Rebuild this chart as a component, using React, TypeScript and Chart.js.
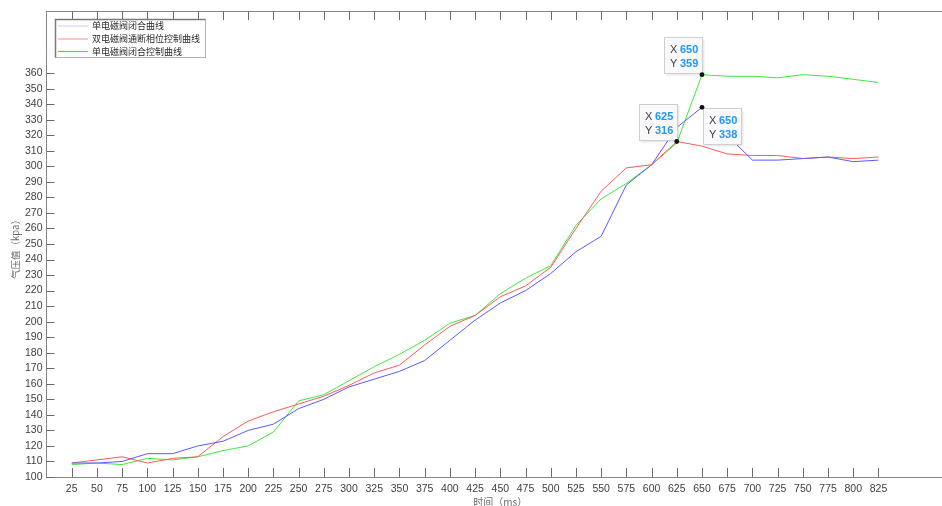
import React, { useEffect, useRef } from "react";
import { Chart, registerables } from "chart.js";

Chart.register(...registerables);

const times = [25, 50, 75, 100, 125, 150, 175, 200, 225, 250, 275, 300, 325, 350, 375, 400, 425, 450, 475, 500, 525, 550, 575, 600, 625, 650, 675, 700, 725, 750, 775, 800, 825];

const singleClose = [109, 109, 110, 115, 115, 120, 123, 130, 134, 144, 150, 158, 163, 168, 175, 188, 201, 212, 220, 231, 245, 255, 288, 301, 325, 338, 320, 304, 304, 305, 306, 303, 304];
const dualPhase = [109, 111, 113, 109, 112, 113, 126, 136, 142, 147, 152, 159, 167, 172, 185, 197, 204, 216, 223, 235, 260, 284, 299, 301, 316, 313, 308, 307, 307, 305, 306, 305, 306];
const singleCtrl = [108, 109, 108, 112, 111, 113, 117, 120, 129, 149, 153, 162, 171, 179, 188, 199, 204, 218, 228, 236, 262, 279, 289, 301, 315, 359, 358, 358, 357, 359, 358, 356, 354];

const seriesLabels = ["单电磁阀闭合曲线", "双电磁阀通断相位控制曲线", "单电磁阀闭合控制曲线"];
const xTickLabels = times;
const yTickLabels = [100, 110, 120, 130, 140, 150, 160, 170, 180, 190, 200, 210, 220, 230, 240, 250, 260, 270, 280, 290, 300, 310, 320, 330, 340, 350, 360];
const xTitle = "时间（ms）";
const yTitle = "气压值（kpa）";

// datatips: [dataset index, time value]
const tipSeries = [2, 1, 0];
const tipTimes = [650, 625, 650];

const lineColors = ["#5a5aff", "#ff5a5a", "#3fe83f"];
const legendColors = ["#d2d2ff", "#ff9c9c", "#45dd45"];
const tipCorners = ["br", "br", "tl"];

const decorPlugin = {
  id: "decor",
  beforeDatasetsDraw(chart: any) {
    const ctx = chart.ctx;
    const { left, right, top, bottom } = chart.chartArea;
    const xs = chart.scales.x;
    const ys = chart.scales.y;
    ctx.save();
    ctx.strokeStyle = "#858585";
    ctx.lineWidth = 1;
    // top border
    ctx.beginPath();
    ctx.moveTo(left, Math.round(top) + 0.5);
    ctx.lineTo(right, Math.round(top) + 0.5);
    ctx.stroke();
    ctx.strokeStyle = "#6a6a6a";
    ctx.beginPath();
    for (const v of xTickLabels) {
      const px = Math.round(xs.getPixelForValue(v)) + 0.5;
      ctx.moveTo(px, bottom);
      ctx.lineTo(px, bottom - 9);
      ctx.moveTo(px, top);
      ctx.lineTo(px, top + 9);
    }
    for (const v of yTickLabels) {
      const py = Math.round(ys.getPixelForValue(v)) + 0.5;
      ctx.moveTo(left, py);
      ctx.lineTo(left + 8, py);
    }
    ctx.stroke();
    ctx.restore();
  },
  afterDatasetsDraw(chart: any) {
    const ctx = chart.ctx;
    const xs = chart.scales.x;
    const ys = chart.scales.y;
    ctx.save();
    tipSeries.forEach((si, k) => {
      const idx = times.indexOf(tipTimes[k]);
      const yv = chart.data.datasets[si].data[idx].y;
      const px = xs.getPixelForValue(tipTimes[k]);
      const py = ys.getPixelForValue(yv);
      const w = 38;
      const h = 36;
      let bx: number, by: number;
      if (tipCorners[k] === "br") {
        bx = px - w;
        by = py - 1.5 - h;
      } else {
        bx = px + 1;
        by = py + 1;
      }
      bx = Math.round(bx) + 0.5;
      by = Math.round(by) + 0.5;
      ctx.shadowColor = "rgba(0,0,0,0.12)";
      ctx.shadowBlur = 2;
      ctx.shadowOffsetX = 1;
      ctx.shadowOffsetY = 1;
      ctx.fillStyle = "#f9f9fc";
      ctx.fillRect(bx, by, w, h);
      ctx.shadowColor = "transparent";
      ctx.strokeStyle = "#cfcfcf";
      ctx.lineWidth = 1;
      ctx.strokeRect(bx, by, w, h);
      ctx.textBaseline = "middle";
      ctx.textAlign = "left";
      ctx.font = "11px 'Liberation Sans', Arial, sans-serif";
      ctx.fillStyle = "#404040";
      ctx.fillText("X", bx + 5.5, by + 12);
      ctx.fillText("Y", bx + 5.5, by + 26);
      ctx.font = "bold 11px 'Liberation Sans', Arial, sans-serif";
      ctx.fillStyle = "#1d98f5";
      ctx.fillText(String(tipTimes[k]), bx + 15.5, by + 12);
      ctx.fillText(String(yv), bx + 15.5, by + 26);
      // dot
      ctx.fillStyle = "#111";
      ctx.beginPath();
      ctx.arc(px, py, 2.4, 0, Math.PI * 2);
      ctx.fill();
    });
    ctx.restore();
  },
  afterDraw(chart: any) {
    const ctx = chart.ctx;
    const { left, right, top, bottom } = chart.chartArea;
    ctx.save();
    // axis titles
    ctx.fillStyle = "#6e6e6e";
    ctx.textAlign = "center";
    ctx.textBaseline = "middle";
    ctx.font = "10px 'Noto Sans CJK SC', sans-serif";
    ctx.fillText(xTitle, (left + 954) / 2, bottom + 25);
    ctx.save();
    ctx.translate(15, (top + bottom) / 2 + 3);
    ctx.rotate(-Math.PI / 2);
    ctx.font = "9.5px 'Noto Sans CJK SC', sans-serif";
    ctx.fillText(yTitle, 0, 0);
    ctx.restore();

    // legend
    const lx = 55.5, ly = 19.5, lw = 150, lh = 38;
    ctx.fillStyle = "#ffffff";
    ctx.fillRect(lx, ly, lw, lh);
    ctx.strokeStyle = "#b5b5b5";
    ctx.lineWidth = 1;
    ctx.strokeRect(lx, ly, lw, lh);
    ctx.strokeStyle = "#7a7a7a";
    ctx.lineWidth = 1.5;
    ctx.beginPath();
    ctx.moveTo(lx, ly + lh);
    ctx.lineTo(lx, ly);
    ctx.lineTo(lx + lw, ly);
    ctx.stroke();
    const rows = [26, 39, 51.5];
    ctx.font = "9px 'Noto Sans CJK SC', sans-serif";
    ctx.textAlign = "left";
    ctx.textBaseline = "middle";
    chart.data.datasets.forEach((ds: any, i: number) => {
      ctx.strokeStyle = legendColors[i];
      ctx.lineWidth = 1.2;
      ctx.beginPath();
      ctx.moveTo(58, rows[i]);
      ctx.lineTo(88, rows[i]);
      ctx.stroke();
      ctx.fillStyle = "#2a2a2a";
      ctx.fillText(ds.label, 92, rows[i]);
    });
    ctx.restore();
  },
};

export default function App() {
  const ref = useRef<HTMLCanvasElement | null>(null);
  useEffect(() => {
    if (!ref.current) return;
    const series = [singleClose, dualPhase, singleCtrl];
    const chart = new Chart(ref.current, {
      type: "line",
      data: {
        datasets: series.map((s, i) => ({
          label: seriesLabels[i],
          data: times.map((t, j) => ({ x: t, y: s[j] })),
          borderColor: lineColors[i],
          backgroundColor: lineColors[i],
          borderWidth: 1,
          pointRadius: 0,
          tension: 0,
          fill: false,
          xAxisID: "x",
          yAxisID: "y",
        })),
      },
      options: {
        responsive: false,
        animation: false,
        devicePixelRatio: 1,
        layout: { padding: { top: 11, left: 0, right: 0, bottom: 0 } },
        plugins: { legend: { display: false }, tooltip: { enabled: false } },
        events: [],
        scales: {
          x: {
            type: "linear",
            position: "bottom",
            min: 0,
            max: 888,
            grid: { display: false, drawTicks: false },
            border: { display: true, color: "#858585", width: 1 },
            ticks: {
              autoSkip: false,
              maxRotation: 0,
              padding: 6,
              color: "#404040",
              font: { family: "'Liberation Sans', Arial, sans-serif", size: 10.5 },
            },
            afterBuildTicks: (s: any) => {
              s.ticks = xTickLabels.map((v) => ({ value: v }));
            },
            afterFit: (s: any) => {
              s.height = 29;
            },
          },
          y: {
            type: "linear",
            position: "left",
            min: 100,
            max: 400,
            grid: { display: false, drawTicks: false },
            border: { display: true, color: "#858585", width: 1 },
            ticks: {
              autoSkip: false,
              padding: 4,
              color: "#404040",
              font: { family: "'Liberation Sans', Arial, sans-serif", size: 10.5 },
            },
            afterBuildTicks: (s: any) => {
              s.ticks = yTickLabels.map((v) => ({ value: v }));
            },
            afterFit: (s: any) => {
              s.width = 46.5;
            },
          },
        },
      },
      plugins: [decorPlugin],
    } as any);
    return () => chart.destroy();
  }, []);
  return (
    <div style={{ position: "fixed", left: 0, top: 0, width: 942, height: 506, background: "#fff" }}>
      <canvas ref={ref} width={942} height={506} style={{ display: "block", width: 942, height: 506 }} />
    </div>
  );
}
